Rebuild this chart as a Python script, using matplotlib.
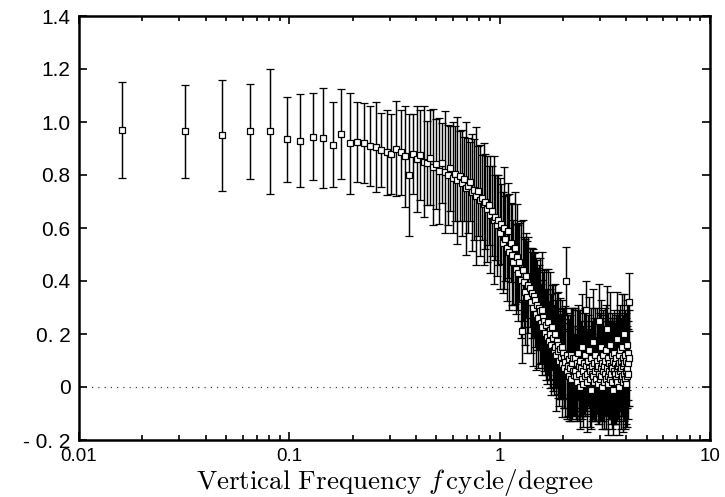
import matplotlib
matplotlib.use("Agg")
import matplotlib.pyplot as plt
from matplotlib.ticker import LogLocator, NullFormatter, NullLocator

# frequency (cycle/degree) of each point
freq = [
    0.016, 0.032, 0.048, 0.065, 0.081, 0.097, 0.113, 0.129, 0.145, 0.161,
    0.177, 0.194, 0.210, 0.226, 0.242, 0.258, 0.274, 0.290, 0.306, 0.323,
    0.339, 0.355, 0.371, 0.387, 0.403, 0.419, 0.435, 0.452, 0.468, 0.484,
    0.500, 0.516, 0.532, 0.548, 0.565, 0.581, 0.597, 0.613, 0.629, 0.645,
    0.661, 0.677, 0.694, 0.710, 0.726, 0.742, 0.758, 0.774, 0.790, 0.806,
    0.823, 0.839, 0.855, 0.871, 0.887, 0.903, 0.919, 0.935, 0.952, 0.968,
    0.984, 1.000, 1.016, 1.032, 1.048, 1.065, 1.081, 1.097, 1.113, 1.129,
    1.145, 1.161, 1.177, 1.194, 1.210, 1.226, 1.242, 1.258, 1.274, 1.290,
    1.306, 1.323, 1.339, 1.355, 1.371, 1.387, 1.403, 1.419, 1.435, 1.452,
    1.468, 1.484, 1.500, 1.516, 1.532, 1.548, 1.565, 1.581, 1.597, 1.613,
    1.629, 1.645, 1.661, 1.677, 1.694, 1.710, 1.726, 1.742, 1.758, 1.774,
    1.790, 1.806, 1.823, 1.839, 1.855, 1.871, 1.887, 1.903, 1.919, 1.935,
    1.952, 1.968, 1.984, 2.000, 2.016, 2.032, 2.048, 2.065, 2.081, 2.097,
    2.113, 2.129, 2.145, 2.161, 2.177, 2.194, 2.210, 2.226, 2.242, 2.258,
    2.274, 2.290, 2.306, 2.323, 2.339, 2.355, 2.371, 2.387, 2.403, 2.419,
    2.435, 2.452, 2.468, 2.484, 2.500, 2.516, 2.532, 2.548, 2.565, 2.581,
    2.597, 2.613, 2.629, 2.645, 2.661, 2.677, 2.694, 2.710, 2.726, 2.742,
    2.758, 2.774, 2.790, 2.806, 2.823, 2.839, 2.855, 2.871, 2.887, 2.903,
    2.919, 2.935, 2.952, 2.968, 2.984, 3.000, 3.016, 3.032, 3.048, 3.065,
    3.081, 3.097, 3.113, 3.129, 3.145, 3.161, 3.177, 3.194, 3.210, 3.226,
    3.242, 3.258, 3.274, 3.290, 3.306, 3.323, 3.339, 3.355, 3.371, 3.387,
    3.403, 3.419, 3.435, 3.452, 3.468, 3.484, 3.500, 3.516, 3.532, 3.548,
    3.565, 3.581, 3.597, 3.613, 3.629, 3.645, 3.661, 3.677, 3.694, 3.710,
    3.726, 3.742, 3.758, 3.774, 3.790, 3.806, 3.823, 3.839, 3.855, 3.871,
    3.887, 3.903, 3.919, 3.935, 3.952, 3.968, 3.984, 4.000, 4.016, 4.032,
    4.048, 4.065, 4.081, 4.097, 4.113, 4.129,
]

# response at each frequency (square markers)
resp = [
    0.970, 0.965, 0.950, 0.965, 0.965, 0.935, 0.930, 0.945, 0.940, 0.915,
    0.955, 0.920, 0.925, 0.920, 0.910, 0.905, 0.895, 0.885, 0.880, 0.900,
    0.885, 0.870, 0.800, 0.880, 0.860, 0.875, 0.850, 0.845, 0.865, 0.830,
    0.840, 0.815, 0.845, 0.810, 0.800, 0.825, 0.790, 0.805, 0.780, 0.795,
    0.770, 0.785, 0.750, 0.760, 0.775, 0.735, 0.745, 0.720, 0.740, 0.705,
    0.715, 0.690, 0.700, 0.670, 0.685, 0.650, 0.665, 0.630, 0.640, 0.610,
    0.630, 0.580, 0.615, 0.545, 0.600, 0.560, 0.525, 0.590, 0.510, 0.545,
    0.500, 0.470, 0.525, 0.445, 0.490, 0.430, 0.470, 0.405, 0.210, 0.440,
    0.395, 0.360, 0.420, 0.340, 0.385, 0.375, 0.320, 0.355, 0.300, 0.345,
    0.330, 0.275, 0.310, 0.260, 0.300, 0.285, 0.240, 0.290, 0.225, 0.265,
    0.250, 0.205, 0.235, 0.190, 0.245, 0.175, 0.215, 0.200, 0.160, 0.225,
    0.185, 0.140, 0.200, 0.150, 0.120, 0.175, 0.135, 0.160, 0.100, 0.145,
    0.115, 0.150, 0.085, 0.130, 0.070, 0.110, 0.095, 0.400, 0.060, 0.120,
    0.080, 0.040, 0.105, 0.070, 0.120, 0.030, 0.090, 0.060, 0.110, 0.045,
    0.060, 0.110, 0.040, 0.090, 0.020, 0.130, 0.050, 0.080, 0.000, 0.100,
    0.070, 0.030, 0.150, 0.060, 0.010, 0.090, 0.120, 0.040, 0.080, 0.290,
    0.050, 0.020, 0.100, 0.070, 0.140, 0.030, 0.060, 0.110, -0.010, 0.080,
    0.050, 0.170, 0.040, 0.090, 0.020, 0.060, 0.120, 0.030, 0.100, 0.070,
    0.010, 0.080, 0.250, 0.050, 0.110, 0.030, 0.070, 0.150, 0.040, 0.090,
    0.000, 0.060, 0.120, 0.080, 0.020, 0.100, 0.050, 0.140, 0.030, 0.220,
    0.070, 0.040, 0.110, 0.010, 0.090, 0.060, 0.160, 0.030, 0.080, 0.050,
    0.120, 0.020, 0.070, 0.100, -0.010, 0.060, 0.130, 0.040, 0.090, 0.050,
    0.030, 0.110, 0.070, 0.180, 0.020, 0.080, 0.050, 0.120, 0.000, 0.090,
    0.060, 0.140, 0.030, 0.100, 0.070, 0.040, 0.150, 0.080, 0.020, 0.110,
    0.050, 0.090, 0.200, 0.030, 0.120, 0.060, 0.010, 0.100, 0.070, 0.160,
    0.040, 0.090, 0.130, 0.050, 0.320, 0.110,
]

# half length of each error bar
err = [
    0.180, 0.175, 0.210, 0.180, 0.235, 0.160, 0.175, 0.165, 0.190, 0.160,
    0.170, 0.190, 0.150, 0.150, 0.150, 0.170, 0.140, 0.160, 0.150, 0.180,
    0.160, 0.190, 0.230, 0.150, 0.200, 0.170, 0.210, 0.160, 0.180, 0.220,
    0.170, 0.200, 0.150, 0.230, 0.190, 0.160, 0.210, 0.180, 0.240, 0.170,
    0.200, 0.160, 0.250, 0.180, 0.150, 0.220, 0.190, 0.260, 0.170, 0.210,
    0.160, 0.230, 0.180, 0.200, 0.150, 0.220, 0.170, 0.240, 0.160, 0.190,
    0.170, 0.210, 0.150, 0.190, 0.230, 0.160, 0.200, 0.180, 0.220, 0.150,
    0.190, 0.160, 0.210, 0.170, 0.200, 0.180, 0.150, 0.220, 0.120, 0.190,
    0.170, 0.200, 0.160, 0.210, 0.180, 0.150, 0.190, 0.170, 0.220, 0.160,
    0.180, 0.210, 0.170, 0.190, 0.160, 0.200, 0.150, 0.220, 0.180, 0.170,
    0.190, 0.160, 0.210, 0.180, 0.200, 0.150, 0.220, 0.170, 0.190, 0.160,
    0.200, 0.170, 0.190, 0.150, 0.210, 0.180, 0.160, 0.200, 0.170, 0.190,
    0.160, 0.180, 0.200, 0.170, 0.150, 0.190, 0.210, 0.130, 0.180, 0.160,
    0.190, 0.170, 0.150, 0.200, 0.180, 0.160, 0.210, 0.170, 0.190, 0.150,
    0.170, 0.190, 0.160, 0.200, 0.150, 0.180, 0.170, 0.210, 0.160, 0.190,
    0.180, 0.150, 0.200, 0.170, 0.160, 0.190, 0.180, 0.150, 0.170, 0.110,
    0.160, 0.190, 0.170, 0.150, 0.200, 0.180, 0.160, 0.190, 0.150, 0.170,
    0.180, 0.200, 0.160, 0.170, 0.150, 0.190, 0.180, 0.160, 0.200, 0.170,
    0.150, 0.180, 0.140, 0.190, 0.170, 0.160, 0.200, 0.180, 0.150, 0.170,
    0.160, 0.190, 0.170, 0.150, 0.180, 0.200, 0.160, 0.170, 0.190, 0.160,
    0.180, 0.150, 0.170, 0.190, 0.160, 0.180, 0.200, 0.150, 0.170, 0.190,
    0.160, 0.180, 0.190, 0.150, 0.170, 0.200, 0.160, 0.180, 0.150, 0.190,
    0.170, 0.160, 0.200, 0.180, 0.150, 0.190, 0.170, 0.160, 0.180, 0.200,
    0.150, 0.170, 0.190, 0.160, 0.180, 0.150, 0.200, 0.170, 0.190, 0.160,
    0.180, 0.160, 0.150, 0.190, 0.170, 0.200, 0.160, 0.180, 0.150, 0.170,
    0.190, 0.160, 0.180, 0.170, 0.110, 0.180,
]

x_ticks = [0.01, 0.1, 1, 10]
x_labels = ["0.01", "0.1", "1", "10"]
y_ticks = [-0.2, 0, 0.2, 0.4, 0.6, 0.8, 1.0, 1.2, 1.4]
y_labels = ["- 0. 2", "0", "0. 2", "0.4", "0.6", "0.8", "1.0", "1.2", "1.4"]

plt.rcParams["font.family"] = ["Liberation Sans", "DejaVu Sans"]
plt.rcParams["mathtext.fontset"] = "cm"

fig = plt.figure(figsize=(7.25, 4.97), dpi=100)
ax = fig.add_axes([79 / 725, 1 - 440 / 497, 631 / 725, 424 / 497])

ax.axhline(0, color="0.25", lw=0.9, ls=(0, (1, 4)), zorder=1)
ax.errorbar(freq, resp, yerr=err, fmt="s", ms=4.3, mfc="white", mec="black",
            mew=0.9, ecolor="black", elinewidth=1.05, capsize=2.6,
            capthick=1.0, zorder=3)

ax.set_xscale("log")
ax.set_xlim(0.01, 10)
ax.set_ylim(-0.2, 1.4)
ax.set_xticks(x_ticks)
ax.set_xticklabels(x_labels, fontsize=13.5)
ax.xaxis.set_minor_locator(LogLocator(base=10, subs=range(2, 10)))
ax.xaxis.set_minor_formatter(NullFormatter())
ax.set_yticks(y_ticks)
ax.set_yticklabels(y_labels, fontsize=15)
ax.yaxis.set_minor_locator(NullLocator())

ax.tick_params(which="both", direction="in", top=True, right=True, width=1.2)
ax.tick_params(which="major", length=6)
ax.tick_params(which="minor", length=3.5)
ax.tick_params(axis="x", which="major", pad=6)
ax.tick_params(axis="y", which="major", pad=6)
for s in ax.spines.values():
    s.set_linewidth(1.8)

ax.set_xlabel(r"$\mathrm{Vertical\ Frequency}\ \mathit{f}\,\mathrm{cycle/degree}$",
              fontsize=19.5, labelpad=1)

fig.savefig("out.png", dpi=100)
